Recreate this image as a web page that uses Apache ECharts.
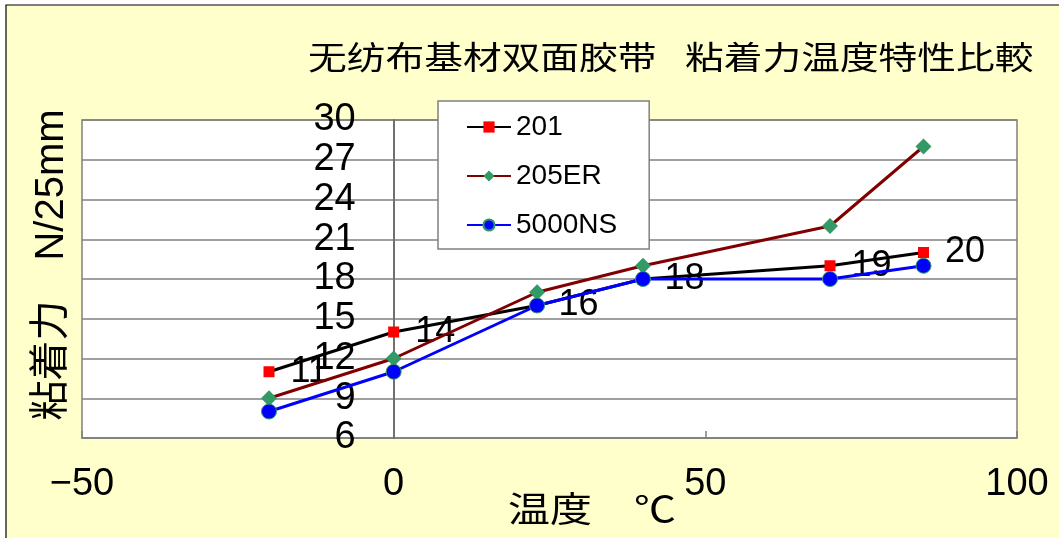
<!DOCTYPE html>
<html>
<head>
<meta charset="utf-8">
<script src="https://cdn.jsdelivr.net/npm/echarts@6/dist/echarts.min.js"></script>
<style>
html,body{margin:0;padding:0;background:#fff;}
#chart{width:1059px;height:538px;}
</style>
</head>
<body>
<div id="chart"></div>
<script>
// ---- data ----
const temps = [-20, 0, 23, 40, 70, 85];
const s201 = [11, 14, 16, 18, 19, 20];
const s205ER = [9, 12, 17, 19, 22, 28];
const s5000NS = [8, 11, 16, 18, 18, 19];
const seriesNames = ['201', '205ER', '5000NS'];
const titleLeft = '无纺布基材双面胶带';
const titleRight = '粘着力温度特性比較';
const xName = '温度　℃';
const yName = '粘着力　N/25mm';
const xMin = -50, xMax = 100, xStep = 50;
const yMin = 6, yMax = 30, yStep = 3;

const pair = (ys) => temps.map((t, i) => [t, ys[i]]);
const FONT = '"Liberation Sans", Arial, "Noto Sans CJK JP", sans-serif';
const CJK = '"Noto Sans CJK JP", "Noto Sans CJK SC", sans-serif';

const W = 1059;
const gridL = 82, gridR = 42;
const gridW = W - gridL - gridR;
// y axis crosses the x axis at x = 0
const yAxisOffset = -((0 - xMin) / (xMax - xMin)) * gridW;

const chart = echarts.init(document.getElementById('chart'));
chart.setOption({
  backgroundColor: '#ffffff',
  animation: false,
  textStyle: { fontFamily: FONT },
  graphic: [
    { type: 'rect', z: -10, silent: true,
      shape: { x: 6, y: 5, width: 1070, height: 550 },
      style: { fill: '#FFFFCC', stroke: '#000', lineWidth: 1.2 } },
    { type: 'text', x: 308, y: 57, scaleX: 1.21, z: 10,
      style: { text: titleLeft, font: '32px ' + CJK, fill: '#000', textAlign: 'left', textVerticalAlign: 'middle' } },
    { type: 'text', x: 685, y: 57, scaleX: 1.21, z: 10,
      style: { text: titleRight, font: '32px ' + CJK, fill: '#000', textAlign: 'left', textVerticalAlign: 'middle' } },
    { type: 'text', x: 508, y: 509, scaleX: 1.2, z: 10,
      style: { text: xName, font: '35px ' + CJK, fill: '#000', textAlign: 'left', textVerticalAlign: 'middle' } },
    { type: 'text', x: 52, y: 265, rotation: Math.PI / 2, z: 10,
      style: { text: yName, font: '40px ' + FONT, fill: '#000', textAlign: 'center', textVerticalAlign: 'middle' } }
  ],
  grid: {
    left: gridL, top: 120, right: gridR, bottom: 100,
    show: true, backgroundColor: '#ffffff', borderColor: '#808080', borderWidth: 1.5
  },
  legend: {
    data: seriesNames,
    orient: 'vertical',
    left: 438, top: 101,
    backgroundColor: '#ffffff',
    borderColor: '#808080', borderWidth: 1.5, borderRadius: 0,
    padding: [12, 32, 10, 28],
    itemGap: 21,
    itemWidth: 44, itemHeight: 14,
    textStyle: { fontSize: 28, color: '#000', fontFamily: FONT }
  },
  xAxis: {
    type: 'value', min: xMin, max: xMax, interval: xStep,
    axisLine: { show: true, onZero: false, lineStyle: { color: '#808080', width: 1.5 } },
    axisTick: { show: true, inside: true, length: 7, lineStyle: { color: '#808080', width: 1.5 } },
    splitLine: { show: false },
    axisLabel: { fontSize: 38, color: '#000', margin: 28, fontFamily: FONT,
      formatter: v => (v < 0 ? '\u2212' + Math.abs(v) : String(v)) }
  },
  yAxis: {
    type: 'value', min: yMin, max: yMax, interval: yStep,
    offset: yAxisOffset,
    z: 1,
    axisLine: { show: true, onZero: false, lineStyle: { color: '#707070', width: 2 } },
    axisTick: { show: false },
    splitLine: { show: true, lineStyle: { color: '#808080', width: 1.5 } },
    axisLabel: { fontSize: 38, color: '#000', margin: 38, fontFamily: FONT }
  },
  series: [
    { name: seriesNames[0], type: 'line', data: pair(s201), z: 2,
      symbol: 'rect', symbolSize: 11,
      lineStyle: { color: '#000000', width: 3 },
      itemStyle: { color: '#FF0000' },
      label: { show: true, position: 'right', distance: 16, fontSize: 36, color: '#000',
        fontFamily: FONT, formatter: p => String(p.value[1]) } },
    { name: seriesNames[1], type: 'line', data: pair(s205ER), z: 3,
      symbol: 'diamond', symbolSize: 16,
      lineStyle: { color: '#800000', width: 3 },
      itemStyle: { color: '#339966' } },
    { name: seriesNames[2], type: 'line', data: pair(s5000NS), z: 4,
      symbol: 'circle', symbolSize: 15,
      lineStyle: { color: '#0000FF', width: 3 },
      itemStyle: { color: '#0000FF', borderColor: '#339966', borderWidth: 1 } }
  ]
});
</script>
</body>
</html>
